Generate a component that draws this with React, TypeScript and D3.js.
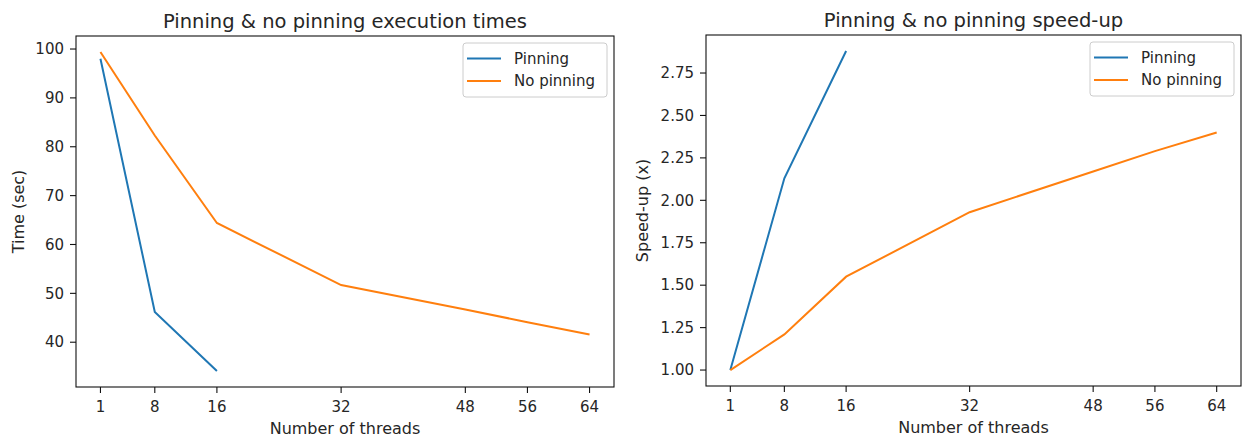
import React from "react";
import * as d3 from "d3";

const threadTicks = [1, 8, 16, 32, 48, 56, 64];

// execution times (sec)
const pinThreads = [1, 8, 16];
const pinTimes = [98.0, 46.2, 34.1];
const noPinThreads = [1, 8, 16, 32, 48, 56, 64];
const noPinTimes = [99.4, 82.3, 64.4, 51.7, 46.7, 44.1, 41.6];

// speed-up (x)
const pinSpeedup = [1.0, 2.13, 2.88];
const noPinSpeedup = [1.0, 1.21, 1.55, 1.93, 2.17, 2.29, 2.4];

const timeTicks = [40, 50, 60, 70, 80, 90, 100];
const speedTicks = [1.0, 1.25, 1.5, 1.75, 2.0, 2.25, 2.5, 2.75];

const BLUE = "#1f77b4";
const ORANGE = "#ff7f0e";
const TEXT = "#262626";
const FONT = "DejaVu Sans, sans-serif";

type Series = { name: string; color: string; xs: number[]; ys: number[] };

function Panel({
  left, right, top, bottom, title, yLabel, yLabelOff, yTicks, yFmt, series,
}: {
  left: number; right: number; top: number; bottom: number;
  title: string; yLabel: string; yLabelOff: number; yTicks: number[];
  yFmt: (v: number) => string; series: Series[];
}) {
  // matplotlib-like 5% margins around data extent
  const allX = series.flatMap((s) => s.xs);
  const allY = series.flatMap((s) => s.ys);
  const [x0, x1] = d3.extent(allX) as [number, number];
  const [y0, y1] = d3.extent(allY) as [number, number];
  const mx = (x1 - x0) * 0.05;
  const my = (y1 - y0) * 0.05;
  const x = d3.scaleLinear().domain([x0 - mx, x1 + mx]).range([left, right]);
  const y = d3.scaleLinear().domain([y0 - my, y1 + my]).range([bottom, top]);

  const line = d3
    .line<[number, number]>()
    .x((d) => x(d[0]))
    .y((d) => y(d[1]));

  const cx = (left + right) / 2;
  const legW = 144;
  const legX = right - 7 - legW;
  const legY = top + 7;

  return (
    <g fontFamily={FONT} fill={TEXT}>
      <text x={cx} y={top - 8} textAnchor="middle" fontSize={19.5}>
        {title}
      </text>
      {series.map((s) => (
        <path
          key={s.name}
          d={line(s.xs.map((v, i) => [v, s.ys[i]] as [number, number])) || ""}
          fill="none"
          stroke={s.color}
          strokeWidth={2}
        />
      ))}
      <rect
        x={left}
        y={top}
        width={right - left}
        height={bottom - top}
        fill="none"
        stroke="#111"
        strokeWidth={1.1}
      />
      {threadTicks.map((t) => (
        <g key={t}>
          <line x1={x(t)} x2={x(t)} y1={bottom} y2={bottom + 6} stroke="#111" strokeWidth={1.1} />
          <text x={x(t)} y={bottom + 25} textAnchor="middle" fontSize={15}>
            {t}
          </text>
        </g>
      ))}
      {yTicks.map((t) => (
        <g key={t}>
          <line x1={left - 6} x2={left} y1={y(t)} y2={y(t)} stroke="#111" strokeWidth={1.1} />
          <text x={left - 12} y={y(t)} dy="0.35em" textAnchor="end" fontSize={15}>
            {yFmt(t)}
          </text>
        </g>
      ))}
      <text x={cx} y={bottom + 47} textAnchor="middle" fontSize={16}>
        Number of threads
      </text>
      <text
        transform={`translate(${left - yLabelOff},${(top + bottom) / 2}) rotate(-90)`}
        textAnchor="middle"
        dy="0.35em"
        fontSize={16}
      >
        {yLabel}
      </text>
      <rect
        x={legX}
        y={legY}
        width={legW}
        height={54}
        rx={3}
        fill="white"
        fillOpacity={0.8}
        stroke="#cccccc"
        strokeWidth={1}
      />
      {series.map((s, i) => (
        <g key={s.name}>
          <line
            x1={legX + 4}
            x2={legX + 38}
            y1={legY + 15.5 + i * 22.6}
            y2={legY + 15.5 + i * 22.6}
            stroke={s.color}
            strokeWidth={2}
          />
          <text x={legX + 51} y={legY + 15.5 + i * 22.6} dy="0.35em" fontSize={15}>
            {s.name}
          </text>
        </g>
      ))}
    </g>
  );
}

export default function App() {
  const fmt2 = d3.format(".2f");
  return (
    <svg
      width={1242}
      height={438}
      style={{ position: "absolute", left: 0, top: 0, background: "white" }}
    >
      <Panel
        left={76}
        right={614}
        top={36}
        bottom={387}
        title="Pinning & no pinning execution times"
        yLabel="Time (sec)"
        yLabelOff={58}
        yTicks={timeTicks}
        yFmt={(v) => String(v)}
        series={[
          { name: "Pinning", color: BLUE, xs: pinThreads, ys: pinTimes },
          { name: "No pinning", color: ORANGE, xs: noPinThreads, ys: noPinTimes },
        ]}
      />
      <Panel
        left={706}
        right={1241}
        top={35}
        bottom={386}
        title="Pinning & no pinning speed-up"
        yLabel="Speed-up (x)"
        yLabelOff={64}
        yTicks={speedTicks}
        yFmt={fmt2}
        series={[
          { name: "Pinning", color: BLUE, xs: pinThreads, ys: pinSpeedup },
          { name: "No pinning", color: ORANGE, xs: noPinThreads, ys: noPinSpeedup },
        ]}
      />
    </svg>
  );
}
